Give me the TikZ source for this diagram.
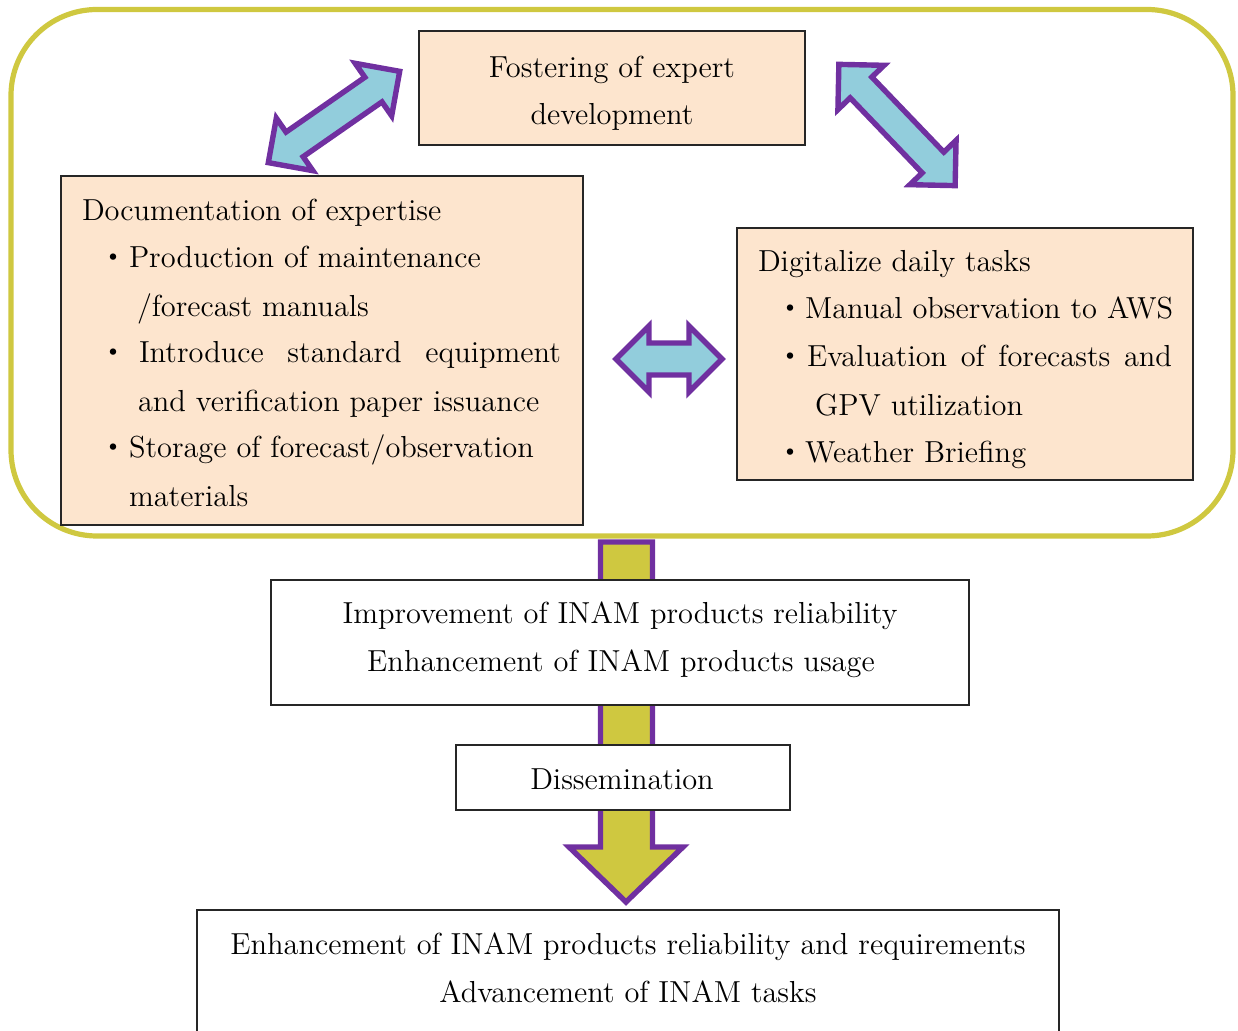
\documentclass[tikz,border=0pt]{standalone}
\usepackage{fontspec}
\setmainfont{lmroman12-regular.otf}
\newfontfamily\cjk{Noto Sans CJK JP}
\definecolor{peach}{HTML}{FDE5CE}
\definecolor{purp}{HTML}{7030A0}
\definecolor{lblue}{HTML}{92CDDC}
\definecolor{olivey}{HTML}{CFC840}
\newcommand{\DblArrow}[7]{%
  \begin{scope}[shift={(#1,#2)},rotate=#3]
    \draw[arr] (-#4,0) -- (-#4+#7,#6) -- (-#4+#7,#5) -- (#4-#7,#5) -- (#4-#7,#6) -- (#4,0)
      -- (#4-#7,-#6) -- (#4-#7,-#5) -- (-#4+#7,-#5) -- (-#4+#7,-#6) -- cycle;
  \end{scope}}
\begin{document}
\begin{tikzpicture}[x=0.5pt,y=-0.5pt,
  every node/.style={font=\fontsize{15.2}{24}\selectfont, inner sep=0pt, outer sep=0pt},
  box/.style={draw=black!85, line width=0.7pt, fill=peach},
  wbox/.style={draw=black!85, line width=0.7pt, fill=white},
  arr/.style={draw=purp, line width=2.7pt, fill=lblue, line join=miter},
  yarr/.style={draw=purp, line width=2.7pt, fill=olivey, line join=miter},
  bul/.style={anchor=base, font=\cjk\fontsize{15}{24}\selectfont},
  lw/.style={anchor=base west},
  ctr/.style={anchor=base}]
\useasboundingbox (0,0) rectangle (1238,1031);
% outer frame
\draw[draw=olivey, line width=2.6pt, rounded corners=43pt] (11,9.5) rectangle (1233,536);
% big vertical arrow
\draw[yarr] (600.5,542) -- (652.5,542) -- (652.5,847) -- (683,847) -- (626,902) -- (569,847) -- (600.5,847) -- cycle;
% boxes
\node[box, minimum width=193pt, minimum height=57pt] (fost) at (612,88) {};
\node[box, minimum width=261pt, minimum height=174.5pt] (doc) at (322,350.5) {};
\node[box, minimum width=228pt, minimum height=126pt] (dig) at (965,354) {};
\node[wbox, minimum width=349pt, minimum height=62.5pt] (impr) at (620,642.5) {};
\node[wbox, minimum width=167pt, minimum height=32.5pt] (diss) at (623,777.5) {};
\node[wbox, minimum width=431pt, minimum height=62pt] (final) at (628,972) {};
% double arrows
\DblArrow{334}{117}{34.8}{80}{15}{32}{32}
\DblArrow{897}{125}{-46.2}{84}{15}{32}{32}
\DblArrow{669}{359}{0}{53}{16}{33}{33}
% texts: top
\node[ctr] (f1) at (612,78) {Fostering of expert};
\node[ctr] (f2) at (612,125) {development};
% left box
\node[lw] (d1) at (82,221) {Documentation of expertise};
\node[bul] (b1) at (113,269) {・};
\node[lw] (d2) at (129,268) {Production of maintenance};
\node[lw] (d3) at (137,317) {/forecast manuals};
\node[bul] (b2) at (113,364) {・};
\node[lw] (d4) at (139,363) {\makebox[211pt][s]{Introduce standard equipment}};
\node[lw] (d5) at (138,412) {and verification paper issuance};
\node[bul] (b3) at (113,459) {・};
\node[lw] (d6) at (129,458) {Storage of forecast/observation};
\node[lw] (d7) at (129,507) {materials};
% right box
\node[lw] (g1) at (758,272) {Digitalize daily tasks};
\node[bul] (b4) at (790,320) {・};
\node[lw] (g2) at (805,319) {Manual observation to AWS};
\node[bul] (b5) at (790,368) {・};
\node[lw] (g3) at (807,367) {\makebox[182.5pt][s]{Evaluation of forecasts and}};
\node[lw] (g4) at (815,416) {GPV utilization};
\node[bul] (b6) at (790,464) {・};
\node[lw] (g5) at (805,463) {Weather Briefing};
% lower boxes
\node[ctr] (i1) at (620,624) {Improvement of INAM products reliability};
\node[ctr] (i2) at (621,672) {Enhancement of INAM products usage};
\node[ctr] (s1) at (622,790) {Dissemination};
\node[ctr] (e1) at (628,955) {Enhancement of INAM products reliability and requirements};
\node[ctr] (e2) at (628,1002) {Advancement of INAM tasks};
\end{tikzpicture}
\end{document}
